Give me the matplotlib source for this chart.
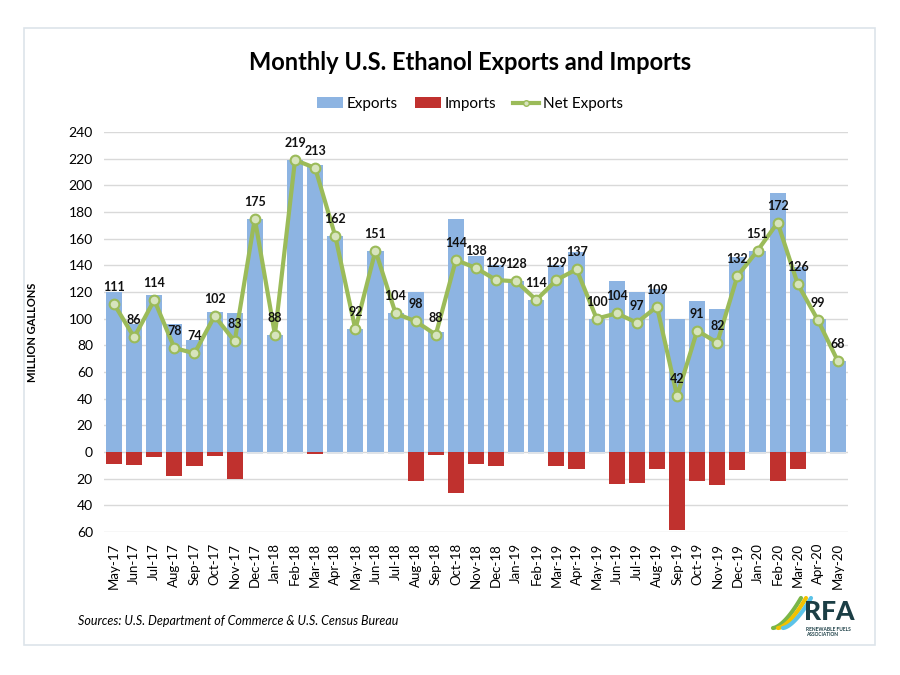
import matplotlib
matplotlib.use('Agg')
import matplotlib.pyplot as plt
from matplotlib.patches import Rectangle
from matplotlib.lines import Line2D
import numpy as np

plt.rcParams['font.family'] = ['Lato', 'DejaVu Sans']

# data (million gallons)
months = ['May-17', 'Jun-17', 'Jul-17', 'Aug-17', 'Sep-17', 'Oct-17', 'Nov-17', 'Dec-17',
          'Jan-18', 'Feb-18', 'Mar-18', 'Apr-18', 'May-18', 'Jun-18', 'Jul-18', 'Aug-18',
          'Sep-18', 'Oct-18', 'Nov-18', 'Dec-18', 'Jan-19', 'Feb-19', 'Mar-19', 'Apr-19',
          'May-19', 'Jun-19', 'Jul-19', 'Aug-19', 'Sep-19', 'Oct-19', 'Nov-19', 'Dec-19',
          'Jan-20', 'Feb-20', 'Mar-20', 'Apr-20', 'May-20']
exports = [120, 96, 118, 96, 84, 105, 104, 175, 88, 219, 215, 162, 92, 151, 104, 120,
           90, 175, 147, 140, 128, 114, 140, 150, 100, 128, 120, 122, 100, 113, 107, 146,
           151, 194, 139, 100, 68]
imports = [9, 10, 3.5, 18, 10.5, 3, 20.5, 0, 0, 0, 1.5, 0, 0, 0, 0, 21.5,
           2, 31, 9, 10.5, 0, 0, 10.5, 13, 0, 24, 23, 13, 58.5, 22, 25, 13.5,
           0, 22, 13, 0, 0]
net = [111, 86, 114, 78, 74, 102, 83, 175, 88, 219, 213, 162, 92, 151, 104, 98,
       88, 144, 138, 129, 128, 114, 129, 137, 100, 104, 97, 109, 42, 91, 82, 132,
       151, 172, 126, 99, 68]

x = np.arange(len(months))

fig = plt.figure(figsize=(9, 6.75), dpi=100)
ax = fig.add_axes([104/900, 1 - 532/675, (848 - 104)/900, 400/675])

# outer frame of the chart
fig.patches.append(Rectangle((24/900, 1 - 645/675), (875 - 24)/900, (645 - 28)/675,
                             transform=fig.transFigure, fill=False,
                             edgecolor='#dde4ea', linewidth=1.2))

green = '#9bbb59'
ax.bar(x, [-1.5] * len(x), width=0.8, color='#dfe3e8', zorder=2)
b1 = ax.bar(x, exports, width=0.8, color='#8db4e2', zorder=2)
b2 = ax.bar(x, [-v for v in imports], width=0.8, color='#c0312e', zorder=2)
ax.plot(x, net, color=green, lw=3, marker='o', ms=7, mfc='#d7e4bd',
        mec=green, mew=1.5, zorder=4)

for xi, v in zip(x, net):
    ax.annotate(str(v), (xi, v), xytext=(0, 8), textcoords='offset points',
                ha='center', va='bottom', fontsize=9, fontweight='bold',
                color='#111111', zorder=5)

ax.set_xlim(-0.5, len(x) - 0.5)
ax.set_ylim(-60, 240)
ax.set_yticks(np.arange(-60, 241, 20))
ax.set_yticklabels([str(abs(t)) for t in range(-60, 241, 20)], fontsize=10)
ax.set_xticks(x)
ax.set_xticklabels(months, rotation=90, fontsize=9.5)
ax.tick_params(length=0, pad=8)
ax.yaxis.grid(True, color='#d9d9d9', lw=1, zorder=0)
ax.set_axisbelow(True)
for s in ax.spines.values():
    s.set_visible(False)

ax.set_ylabel('MILLION GALLONS', fontsize=8, fontweight='bold', labelpad=22)

fig.text(470/900, 1 - 62/675, 'Monthly U.S. Ethanol Exports and Imports',
         ha='center', va='center', fontsize=17, fontweight='bold')

net_handle = Line2D([], [], color=green, lw=3, marker='o', ms=4,
                    mfc='#d7e4bd', mec=green)
ax.legend([b1, b2, net_handle], ['Exports', 'Imports', 'Net Exports'],
          loc='center', bbox_to_anchor=(470/900, 1 - 104/675),
          bbox_transform=fig.transFigure, ncol=3, frameon=False, fontsize=11,
          handlelength=1.7, handletextpad=0.25, columnspacing=1.1)

fig.text(78/900, 1 - 621/675, 'Sources: U.S. Department of Commerce & U.S. Census Bureau',
         ha='left', va='center', fontsize=9, style='italic')

# RFA logo (approximation)
for dx, col in [(0, '#7ab648'), (5, '#f2c200'), (10, '#5cc3e8')]:
    t = np.linspace(0, 1, 30)
    xs = (773 + dx + 28 * t) / 900
    ys = 1 - (628 - 30 * t ** 1.6) / 675
    fig.lines.append(Line2D(xs, ys, transform=fig.transFigure, color=col, lw=3,
                            solid_capstyle='round'))
fig.text(804/900, 1 - 612/675, 'RFA', ha='left', va='center', fontsize=19,
         fontweight='black', color='#1b3e45')
fig.text(806/900, 1 - 632/675, 'RENEWABLE FUELS\nASSOCIATION', ha='left', va='center',
         fontsize=3.5, fontweight='bold', color='#1b3e45', linespacing=1.2)

fig.savefig('out.png', dpi=100)
